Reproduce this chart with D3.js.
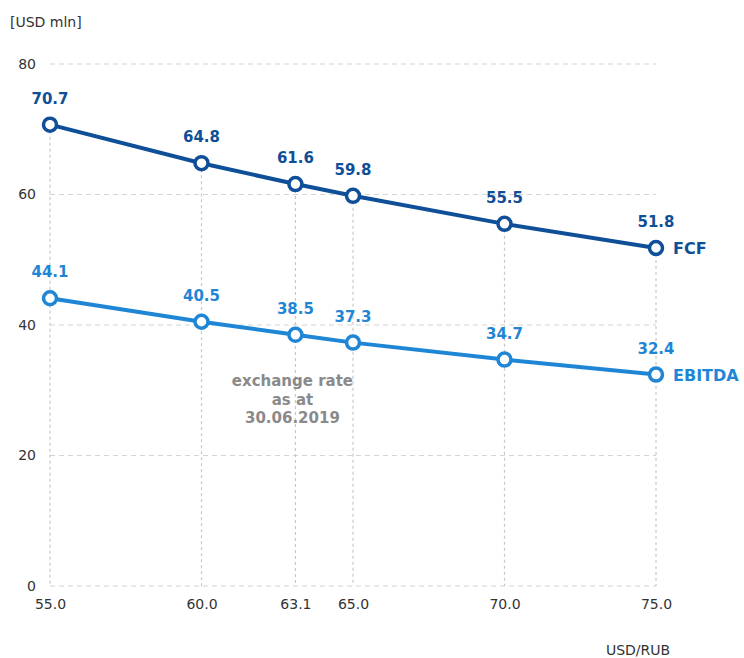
<!DOCTYPE html>
<html><head><meta charset="utf-8">
<script src="https://cdn.jsdelivr.net/npm/d3@7"></script>
<style>
body{margin:0;background:#fff;}
text{font-family:"DejaVu Sans",Verdana,sans-serif;}
</style></head>
<body><svg id="c" width="744" height="658"></svg>
<script>
const rates = [55.0, 60.0, 63.1, 65.0, 70.0, 75.0];
const rateLabels = ["55.0","60.0","63.1","65.0","70.0","75.0"];
const fcf = [70.7, 64.8, 61.6, 59.8, 55.5, 51.8];
const ebitda = [44.1, 40.5, 38.5, 37.3, 34.7, 32.4];
const yTicks = [0, 20, 40, 60, 80];
const annotation = ["exchange rate", "as at", "30.06.2019"];

const svg = d3.select("#c");
const x = d3.scaleLinear().domain([55, 75]).range([50, 656]);
const y = d3.scaleLinear().domain([0, 80]).range([586, 64]);
const cF = "#0f4f98", cE = "#1f86d6";

// horizontal grid
svg.append("g").selectAll("line").data(yTicks).join("line")
  .attr("x1", x(55)).attr("x2", x(75))
  .attr("y1", d => y(d)).attr("y2", d => y(d))
  .attr("stroke", "#d4d4d4").attr("stroke-width", 1.2).attr("stroke-dasharray", "5,4");
// vertical grid
svg.append("g").selectAll("line").data(rates).join("line")
  .attr("x1", d => x(d)).attr("x2", d => x(d))
  .attr("y1", (d, i) => y(fcf[i])).attr("y2", y(0))
  .attr("stroke", "#c8c8c8").attr("stroke-width", 1.2).attr("stroke-dasharray", "3,3");

// y axis labels
const yAxis = d3.axisLeft(y).tickValues(yTicks).tickSize(0).tickPadding(0).tickFormat(d3.format("d"));
const gy = svg.append("g").attr("transform", "translate(36,0)").call(yAxis);
gy.select(".domain").remove();
gy.selectAll("text").attr("font-size", 14).attr("fill", "#333").attr("font-family", "DejaVu Sans Condensed, DejaVu Sans");

// x axis labels
const xAxis = d3.axisBottom(x).tickValues(rates).tickSize(0).tickPadding(0).tickFormat((d, i) => rateLabels[i]);
const gx = svg.append("g").attr("transform", "translate(0,599)").call(xAxis);
gx.select(".domain").remove();
gx.selectAll("text").attr("font-size", 14).attr("fill", "#333").attr("font-family", "DejaVu Sans Condensed, DejaVu Sans");

svg.append("text").attr("x", 10).attr("y", 27).attr("font-size", 14).attr("fill", "#333")
  .attr("font-family", "DejaVu Sans Condensed, DejaVu Sans").text("[USD mln]");
svg.append("text").attr("x", 638).attr("y", 655).attr("text-anchor", "middle").attr("font-size", 14).attr("fill", "#333")
  .attr("font-family", "DejaVu Sans Condensed, DejaVu Sans").text("USD/RUB");

function series(vals, color, name) {
  const pts = rates.map((r, i) => [r, vals[i]]);
  svg.append("path").datum(pts)
    .attr("d", d3.line().x(d => x(d[0])).y(d => y(d[1])))
    .attr("fill", "none").attr("stroke", color).attr("stroke-width", 4);
  svg.append("g").selectAll("circle").data(pts).join("circle")
    .attr("cx", d => x(d[0])).attr("cy", d => y(d[1])).attr("r", 6.5)
    .attr("fill", "#fff").attr("stroke", color).attr("stroke-width", 3.5);
  svg.append("g").selectAll("text").data(pts).join("text")
    .attr("x", d => x(d[0])).attr("y", d => y(d[1]) - 21)
    .attr("text-anchor", "middle").attr("font-size", 15).attr("font-weight", "bold")
    .attr("fill", color).text(d => d[1].toFixed(1));
  const last = pts[pts.length - 1];
  svg.append("text").attr("x", x(last[0]) + 17).attr("y", y(last[1]) + 6)
    .attr("font-size", 16).attr("font-weight", "bold").attr("fill", color).text(name);
}
series(fcf, cF, "FCF");
series(ebitda, cE, "EBITDA");

svg.append("g").selectAll("text").data(annotation).join("text")
  .attr("x", x(63.1) - 3).attr("y", (d, i) => 386 + i * 18.5)
  .attr("text-anchor", "middle").attr("font-size", 15).attr("font-weight", "bold")
  .attr("fill", "#8a8a8a").text(d => d);
</script></body></html>
